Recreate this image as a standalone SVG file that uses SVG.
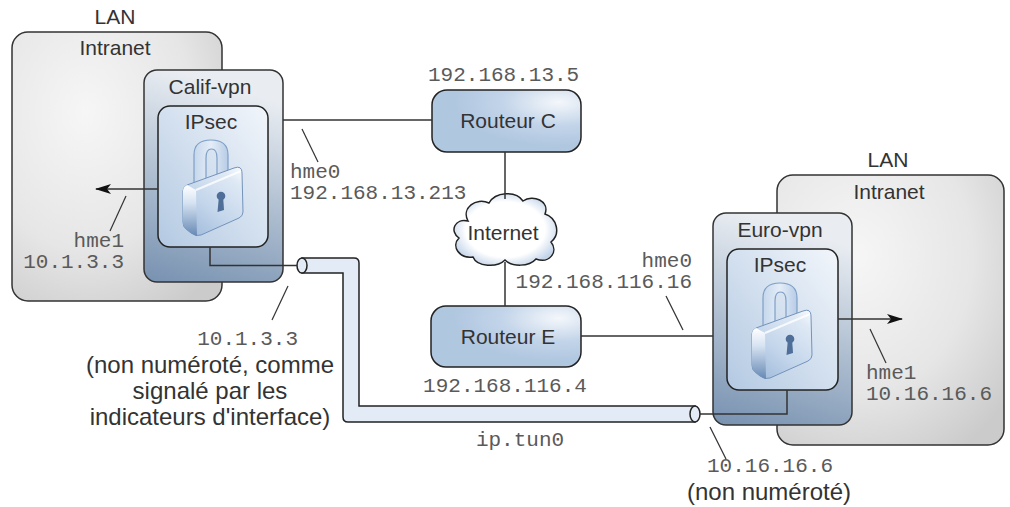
<svg xmlns="http://www.w3.org/2000/svg" xmlns:xlink="http://www.w3.org/1999/xlink" width="1010" height="507" viewBox="0 0 1010 507">
  <style>
    .sans { font-family: "Liberation Sans", Arial, sans-serif; fill: #333; }
    .mono { font-family: "Liberation Mono", "Courier New", monospace; fill: #5a5a5a; font-size: 21px; }
    .lbl { font-size: 21px; }
    .big { font-size: 24px; }
    .mid { text-anchor: middle; }
    .end { text-anchor: end; }
    .lan { fill: url(#lanFill); stroke: #333; stroke-width: 1.5; }
    .vpn { fill: url(#vpnFill); stroke: #333; stroke-width: 1.5; }
    .ipsec { fill: url(#ipsecFill); stroke: #222; stroke-width: 1.5; }
    .router { fill: url(#routerFill); stroke: #222; stroke-width: 1.5; }
    .wire { fill: none; stroke: #333; stroke-width: 1.5; }
    .leader { fill: none; stroke: #333; stroke-width: 1.2; }
    .tube { fill: #e3ecf6; stroke: #222; stroke-width: 1.5; }
  </style>
  <defs>
    <radialGradient id="lanFill" cx="0.35" cy="0.3" r="0.85">
      <stop offset="0" stop-color="#f6f6f6"/>
      <stop offset="0.6" stop-color="#e6e6e6"/>
      <stop offset="1" stop-color="#cbcbcb"/>
    </radialGradient>
    <linearGradient id="vpnFill" x1="0.2" y1="0" x2="0" y2="1">
      <stop offset="0" stop-color="#e9edf2"/>
      <stop offset="0.45" stop-color="#b4c3d4"/>
      <stop offset="1" stop-color="#7791b0"/>
    </linearGradient>
    <linearGradient id="ipsecFill" x1="1" y1="0" x2="0" y2="1">
      <stop offset="0" stop-color="#f2f6fb"/>
      <stop offset="1" stop-color="#b3c9e2"/>
    </linearGradient>
    <radialGradient id="routerFill" cx="0.85" cy="0.2" r="0.7">
      <stop offset="0" stop-color="#f4f7fb"/>
      <stop offset="0.55" stop-color="#c2d4e9"/>
      <stop offset="1" stop-color="#b0c7e0"/>
    </radialGradient>
    <radialGradient id="cloudFill" cx="0.5" cy="0.5" r="0.55">
      <stop offset="0" stop-color="#ffffff"/>
      <stop offset="0.7" stop-color="#ffffff"/>
      <stop offset="1" stop-color="#c4d5ea"/>
    </radialGradient>
    <linearGradient id="lockBody" x1="0.9" y1="0" x2="0.2" y2="1">
      <stop offset="0" stop-color="#f3f7fc"/>
      <stop offset="0.15" stop-color="#dfe9f5"/>
      <stop offset="0.6" stop-color="#c4d6eb"/>
      <stop offset="1" stop-color="#a3bddc"/>
    </linearGradient>
    <linearGradient id="lockSide" x1="0" y1="0" x2="0" y2="1">
      <stop offset="0" stop-color="#ffffff"/>
      <stop offset="0.35" stop-color="#d6e3f2"/>
      <stop offset="1" stop-color="#6688b4"/>
    </linearGradient>
    <linearGradient id="shackleFill" x1="0" y1="0" x2="1" y2="0">
      <stop offset="0" stop-color="#c6d7ec"/>
      <stop offset="0.5" stop-color="#e4edf7"/>
      <stop offset="1" stop-color="#b7cce6"/>
    </linearGradient>
    <marker id="arrow" viewBox="0 0 16 10" refX="15" refY="5" markerWidth="16" markerHeight="10" markerUnits="userSpaceOnUse" orient="auto">
      <path d="M16,5 L0,0 L4,5 L0,10 Z" fill="#111"/>
    </marker>
    <!-- padlock drawn inside the IPsec box (left instance coordinates) -->
    <g id="lock">
      <path d="M194,186 V155 Q194,140 211,140 Q228,140 228,155 V180 H217 V158 Q217,149 211.5,149 Q206,149 206,158 V186 Z" fill="url(#shackleFill)" stroke="#7e9fc6" stroke-width="1.2"/>
      <path d="M187,185 L234,168 Q242,165 242,173 L243,212 Q243,216 239,218 L201,235 Q196,237 191,233 L186,229 Q183,227 183,222 L183,191 Q183,187 187,185 Z" fill="url(#lockBody)" stroke="#7393bb" stroke-width="1"/>
      <path d="M187,185 L196,190 L197,236 Q194,235 191,233 L186,229 Q183,227 183,222 L183,191 Q183,187 187,185 Z" fill="url(#lockSide)" stroke="none"/>
      <path d="M196,190 L241,171" fill="none" stroke="#ffffff" stroke-width="2" opacity="0.8"/>
      <circle cx="221" cy="196" r="4.3" fill="#4f6f98"/>
      <path d="M218.8,198 L217.5,212 L224,210 L223.2,198 Z" fill="#4f6f98"/>
    </g>
  </defs>

  <!-- left site -->
  <g id="lan-left">
    <rect class="lan" x="12" y="32" width="210" height="269" rx="16"/>
    <text class="sans lbl mid" x="115" y="24">LAN</text>
    <text class="sans lbl mid" x="115" y="55">Intranet</text>
  </g>
  <g id="calif-vpn">
    <rect class="vpn" x="144" y="70" width="139" height="212" rx="13"/>
    <text class="sans lbl mid" x="210" y="94">Calif-vpn</text>
  </g>
  <g id="ipsec-calif">
    <rect class="ipsec" x="158" y="106" width="110" height="141" rx="12"/>
    <text class="sans lbl mid" x="211" y="129">IPsec</text>
    <use href="#lock" xlink:href="#lock"/>
  </g>

  <!-- right site -->
  <g id="lan-right">
    <rect class="lan" x="777" y="175" width="227" height="270" rx="16"/>
    <text class="sans lbl mid" x="888" y="167">LAN</text>
    <text class="sans lbl mid" x="889" y="199">Intranet</text>
  </g>
  <g id="euro-vpn">
    <rect class="vpn" x="713" y="213" width="139" height="212" rx="13"/>
    <text class="sans lbl mid" x="780" y="237">Euro-vpn</text>
  </g>
  <g id="ipsec-euro">
    <rect class="ipsec" x="727" y="249" width="111" height="141" rx="12"/>
    <text class="sans lbl mid" x="780" y="272">IPsec</text>
    <use href="#lock" xlink:href="#lock" transform="translate(569,143)"/>
  </g>

  <!-- routers and internet -->
  <g id="routeur-c">
    <rect class="router" x="432" y="90" width="149" height="62" rx="15"/>
    <text class="sans lbl mid" x="508" y="128">Routeur C</text>
  </g>
  <g id="routeur-e">
    <rect class="router" x="431" y="306" width="150" height="61" rx="15"/>
    <text class="sans lbl mid" x="508" y="344">Routeur E</text>
  </g>
  <g id="internet">
    <path d="M468,221 C461,208 476,197 489,203 C495,192 516,190 523,201 C533,194 550,201 545,214 C557,218 561,234 551,242 C559,252 549,264 536,259 C529,267 512,267 505,260 C497,268 477,267 473,257 C459,259 451,246 459,238 C449,231 455,218 468,221 Z" fill="url(#cloudFill)" stroke="#222" stroke-width="1.5"/>
    <text class="sans lbl mid" x="503" y="240">Internet</text>
  </g>

  <!-- IP tunnel -->
  <g id="ip-tun0">
    <path class="tube" d="M302,258 H354 Q359,258 359,263 V406 H695 V422 H348 Q343,422 343,417 V273 H302 Z"/>
    <ellipse class="tube" cx="302" cy="265.5" rx="5" ry="7.5"/>
    <ellipse class="tube" cx="695" cy="414" rx="5" ry="8"/>
  </g>

  <!-- connectors -->
  <g id="connectors">
    <line class="wire" x1="283" y1="120" x2="432" y2="120"/>
    <line class="wire" x1="505" y1="152" x2="505" y2="199"/>
    <line class="wire" x1="505" y1="262" x2="505" y2="306"/>
    <line class="wire" x1="581" y1="336" x2="713" y2="336"/>
    <polyline class="wire" points="210,247 210,265.5 297,265.5"/>
    <polyline class="wire" points="787,390 787,414 700,414"/>
    <line class="wire" x1="158" y1="189" x2="96" y2="189" marker-end="url(#arrow)"/>
    <line class="wire" x1="838" y1="319" x2="902" y2="319" marker-end="url(#arrow)"/>
    <!-- label leaders -->
    <line class="leader" x1="126" y1="196" x2="110" y2="231"/>
    <line class="leader" x1="302" y1="129" x2="318" y2="162"/>
    <line class="leader" x1="666" y1="296" x2="683" y2="330"/>
    <line class="leader" x1="870" y1="329" x2="886" y2="363"/>
    <line class="leader" x1="288" y1="286" x2="272" y2="320"/>
    <line class="leader" x1="710" y1="427" x2="726" y2="459"/>
  </g>

  <!-- interface labels -->
  <g id="labels">
    <text class="mono end" x="124" y="247">hme1</text>
    <text class="mono end" x="124" y="268">10.1.3.3</text>
    <text class="mono" x="428" y="81">192.168.13.5</text>
    <text class="mono" x="290" y="178">hme0</text>
    <text class="mono" x="290" y="199">192.168.13.213</text>
    <text class="mono end" x="692" y="267">hme0</text>
    <text class="mono end" x="692" y="288">192.168.116.16</text>
    <text class="mono mid" x="505" y="392">192.168.116.4</text>
    <text class="mono" x="866" y="379">hme1</text>
    <text class="mono" x="866" y="400">10.16.16.6</text>
    <text class="mono mid" x="520" y="446">ip.tun0</text>
    <text class="mono end" x="298" y="345">10.1.3.3</text>
    <text class="sans big mid" x="210" y="373">(non numéroté, comme</text>
    <text class="sans big mid" x="210" y="399">signalé par les</text>
    <text class="sans big mid" x="210" y="425">indicateurs d'interface)</text>
    <text class="mono mid" x="770" y="472">10.16.16.6</text>
    <text class="sans big mid" x="769" y="500">(non numéroté)</text>
  </g>
</svg>
